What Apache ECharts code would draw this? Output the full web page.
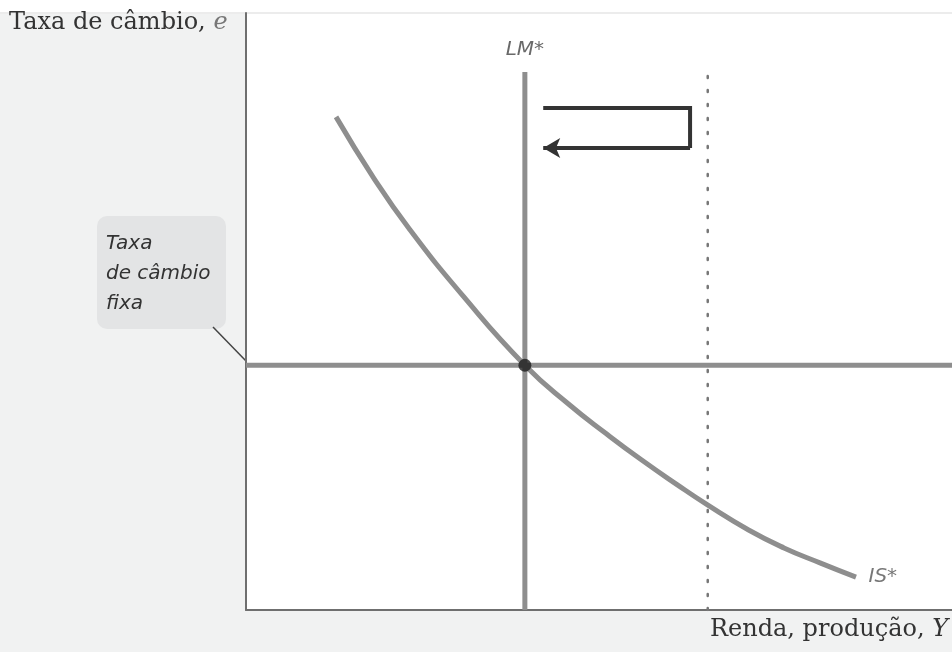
<!DOCTYPE html>
<html>
<head>
<meta charset="utf-8">
<script src="https://cdn.jsdelivr.net/npm/echarts@6/dist/echarts.min.js"></script>
<style>
  html, body { margin: 0; padding: 0; background: #f1f2f2; }
  #chart { width: 952px; height: 652px; }
</style>
</head>
<body>
<div id="chart"></div>
<script>
// curva IS* (eixo 0..100 nos dois sentidos)
const isX = [12.75, 18.07, 23.09, 30.74, 39.5, 45.89, 50.95, 55.95, 61.05, 65.37, 71.19, 76.2, 81.3, 86.4];
const isY = [82.6, 72.4, 63.9, 52.6, 41.0, 34.3, 29.6, 25.2, 21.0, 17.6, 13.4, 10.4, 7.9, 5.5];
// LM* vertical e taxa de câmbio fixa
const lmX = 39.5;
const lmTop = 90.1;
const fixedRate = 41.0;
// LM* deslocada (pontilhada)
const lmShiftX = 65.4;
const lmShiftTop = 90.5;
// seta de retorno
const arrowX = [42.1, 62.9, 62.9];
const arrowY = [84.1, 84.1, 77.4];
const arrowEndX = 42.1;

const gray = "#8e8e8e";
const labelFont = { fontFamily: "DejaVu Sans", fontStyle: "italic", fontSize: 20, color: "#555" };
const chart = echarts.init(document.getElementById("chart"));
const last = isX.length - 1;

chart.setOption({
  backgroundColor: "#f1f2f2",
  animation: false,
  grid: { left: 246, right: 0, top: 13, bottom: 42, show: true, backgroundColor: "#fff", borderWidth: 0 },
  xAxis: {
    type: "value", min: 0, max: 100,
    axisLine: { show: true, onZero: false, lineStyle: { color: "#6f6f6f", width: 2 } },
    axisTick: { show: false }, axisLabel: { show: false }, splitLine: { show: false }
  },
  yAxis: {
    type: "value", min: 0, max: 100,
    axisLine: { show: true, onZero: false, lineStyle: { color: "#6f6f6f", width: 2 } },
    axisTick: { show: false }, axisLabel: { show: false }, splitLine: { show: false }
  },
  series: [
    {
      type: "line", data: [[0, fixedRate], [100, fixedRate]], symbol: "none",
      lineStyle: { color: gray, width: 5 }
    },
    {
      type: "line", data: [[lmShiftX, 0], [lmShiftX, lmShiftTop]], symbol: "none",
      lineStyle: { color: "#777", width: 2.5, type: [2, 12], cap: "round" }
    },
    {
      type: "line", smooth: 0.5, data: isX.map((x, i) => [x, isY[i]]), symbol: "none",
      lineStyle: { color: gray, width: 5 }
    },
    {
      type: "line", symbol: "none", lineStyle: { color: gray, width: 5 },
      data: [[lmX, 0], [lmX, lmTop]]
    },
    {
      type: "line", symbol: "none", lineStyle: { color: "#333", width: 4, join: "miter" },
      data: arrowX.map((x, i) => [x, arrowY[i]]),
      markLine: {
        silent: true, symbol: ["none", "arrow"], symbolSize: [15, 17],
        label: { show: false },
        lineStyle: { color: "#333", width: 4, type: "solid" },
        data: [[{ coord: [arrowX[2], arrowY[2]] }, { coord: [arrowEndX, arrowY[2]] }]]
      }
    },
    {
      type: "scatter", data: [[lmX, fixedRate]], symbolSize: 13,
      itemStyle: { color: "#1e1e1e" }, z: 5
    },
    {
      // rótulos das curvas
      type: "scatter", symbolSize: 1, itemStyle: { color: "transparent" }, silent: true,
      data: [
        { value: [lmX, lmTop], label: { show: true, position: "top", distance: 12, formatter: "LM*", ...labelFont, color: "#444" } },
        { value: [isX[last], isY[last]], label: { show: true, position: "right", distance: 12, formatter: "IS*", ...labelFont } }
      ]
    }
  ],
  graphic: [
    { type: "rect", left: 0, top: 0, shape: { width: 952, height: 12 }, style: { fill: "#fff" } },
    { type: "rect", left: 0, top: 12, shape: { width: 952, height: 2 }, style: { fill: "#ececec" } },
    {
      type: "text", left: 9, top: 11,
      style: {
        text: "{n|Taxa de câmbio, }{i|e}",
        rich: {
          n: { fontFamily: "DejaVu Serif", fontSize: 24, fill: "#333" },
          i: { fontFamily: "DejaVu Serif", fontStyle: "italic", fontSize: 24, fill: "#777" }
        }
      }
    },
    {
      type: "text", right: 4, top: 618,
      style: {
        text: "{n|Renda, produção, }{i|Y}",
        rich: {
          n: { fontFamily: "DejaVu Serif", fontSize: 24, fill: "#333" },
          i: { fontFamily: "DejaVu Serif", fontStyle: "italic", fontSize: 24, fill: "#333" }
        }
      }
    },
    {
      type: "rect", left: 97, top: 216,
      shape: { width: 129, height: 113, r: 10 }, style: { fill: "#e3e4e5" }
    },
    {
      type: "text", left: 106, top: 229,
      style: {
        text: "Taxa\nde câmbio\nfixa", lineHeight: 30,
        fontFamily: "DejaVu Sans", fontStyle: "italic", fontSize: 20, fill: "#333"
      }
    },
    {
      type: "line", shape: { x1: 213, y1: 327, x2: 246, y2: 361 },
      style: { stroke: "#444", lineWidth: 1.5 }
    }
  ]
});
</script>
</body>
</html>
